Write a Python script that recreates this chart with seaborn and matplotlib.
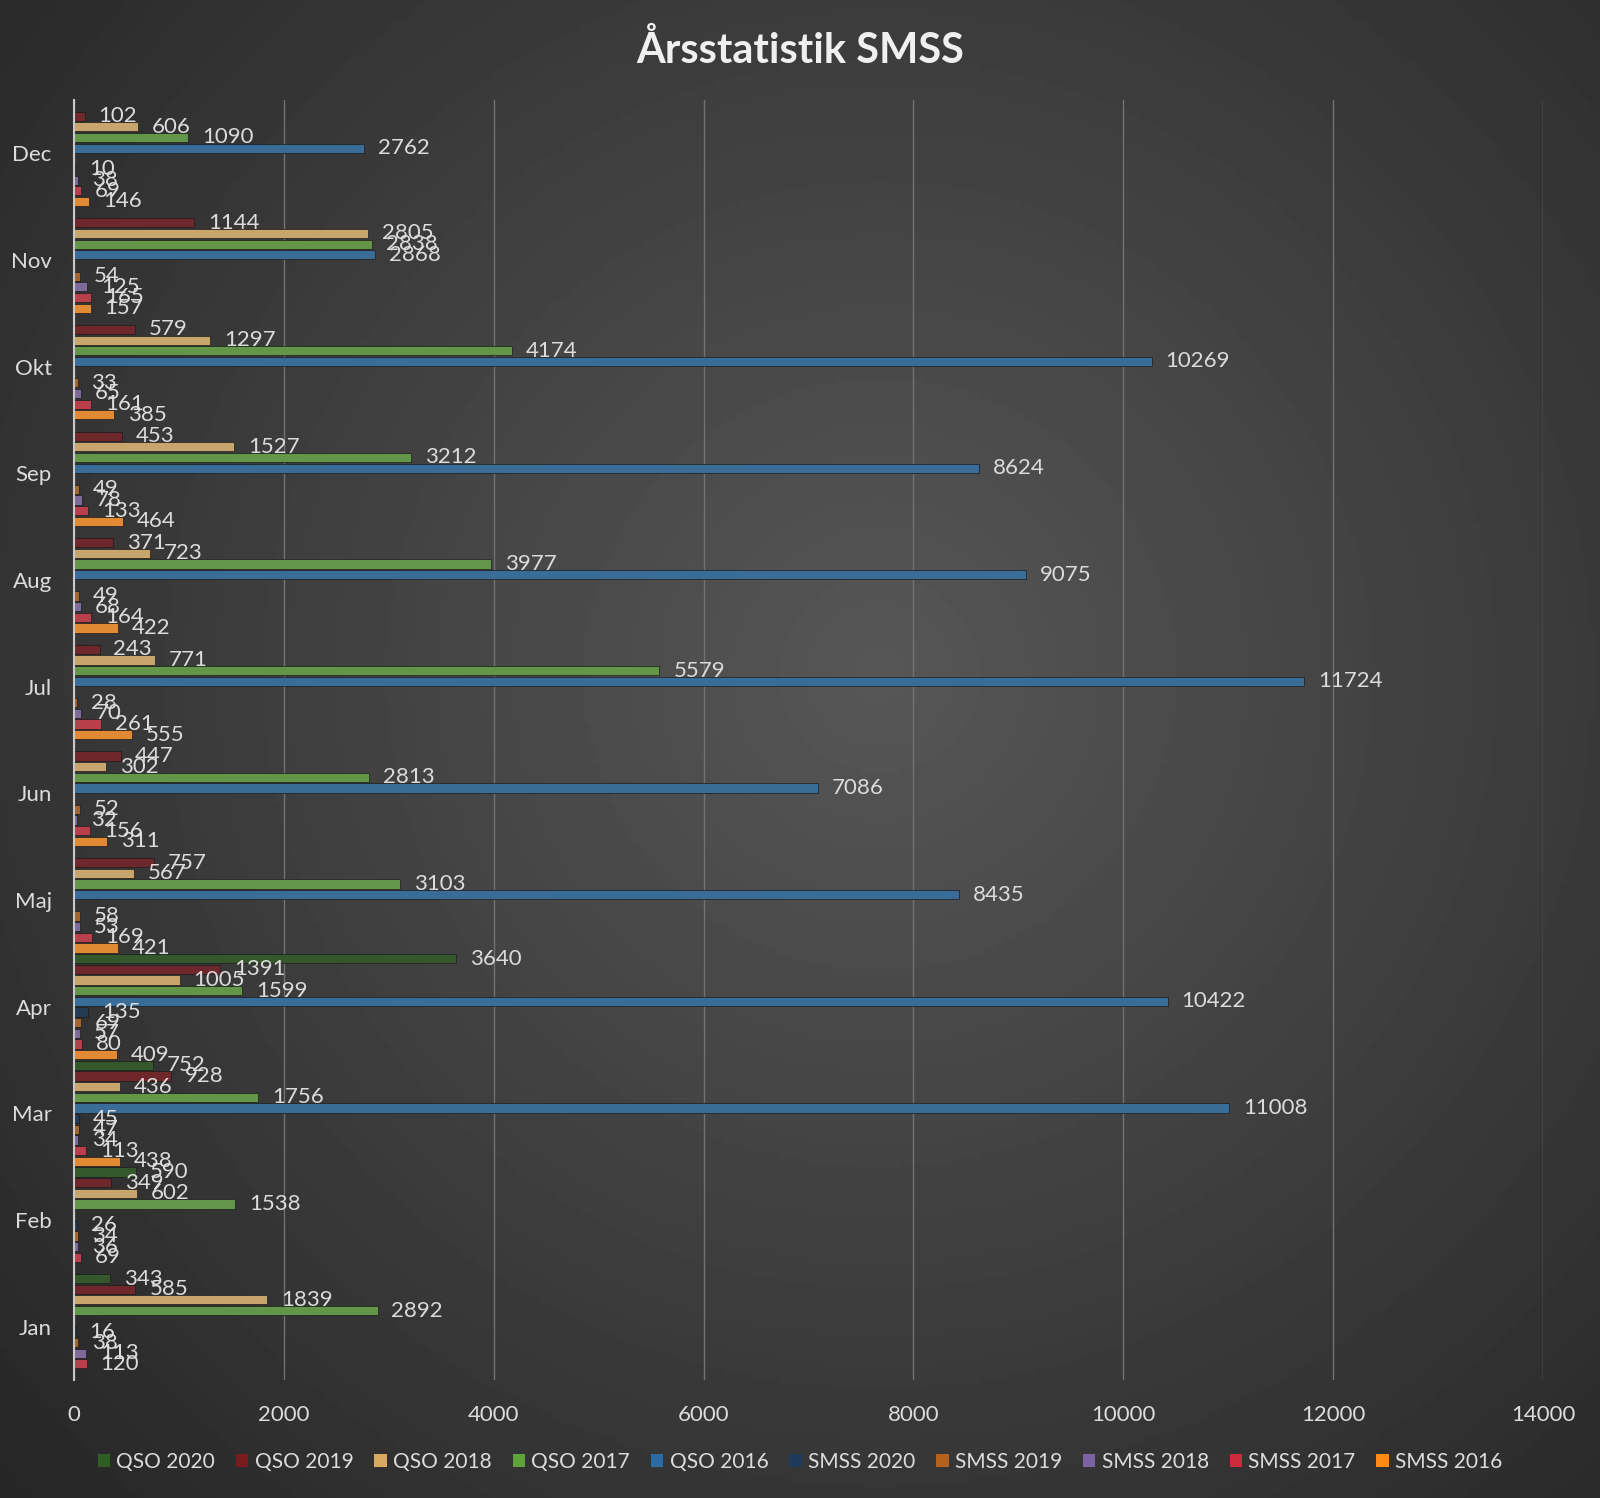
import numpy as np
import pandas as pd
import matplotlib
matplotlib.use("Agg")
import matplotlib.pyplot as plt
from matplotlib.patches import Patch
import seaborn as sns

# ============================
# DATA (Jan..Dec)
# ============================
months = ["Jan", "Feb", "Mar", "Apr", "Maj", "Jun", "Jul", "Aug", "Sep", "Okt", "Nov", "Dec"]
nan = np.nan

qso_2020 = [343, 590, 752, 3640, nan, nan, nan, nan, nan, nan, nan, nan]
qso_2019 = [585, 349, 928, 1391, 757, 447, 243, 371, 453, 579, 1144, 102]
qso_2018 = [1839, 602, 436, 1005, 567, 302, 771, 723, 1527, 1297, 2805, 606]
qso_2017 = [2892, 1538, 1756, 1599, 3103, 2813, 5579, 3977, 3212, 4174, 2838, 1090]
qso_2016 = [nan, nan, 11008, 10422, 8435, 7086, 11724, 9075, 8624, 10269, 2868, 2762]
smss_2020 = [16, 26, 45, 135, nan, nan, nan, nan, nan, nan, nan, nan]
smss_2019 = [38, 34, 47, 69, 58, 52, 28, 49, 49, 33, 54, 10]
smss_2018 = [113, 36, 34, 57, 53, 32, 70, 68, 78, 65, 125, 38]
smss_2017 = [120, 69, 113, 80, 169, 156, 261, 164, 133, 161, 165, 69]
smss_2016 = [nan, nan, 438, 409, 421, 311, 555, 422, 464, 385, 157, 146]

series_names = ["QSO 2020", "QSO 2019", "QSO 2018", "QSO 2017", "QSO 2016",
                "SMSS 2020", "SMSS 2019", "SMSS 2018", "SMSS 2017", "SMSS 2016"]
series_values = [qso_2020, qso_2019, qso_2018, qso_2017, qso_2016,
                 smss_2020, smss_2019, smss_2018, smss_2017, smss_2016]
colors = ["#2f5e24", "#7a1b20", "#d8a85f", "#5fa33c", "#2a6da6",
          "#1e3a5a", "#b5621e", "#7b62a3", "#cf2a3c", "#ff8a16"]

# long format, missing months dropped
rows = []
for name, vals in zip(series_names, series_values):
    for m, v in zip(months, vals):
        if not np.isnan(v):
            rows.append({"Månad": m, "Antal": v, "Serie": name})
df = pd.DataFrame(rows)

# ============================
# FIGUR
# ============================
plt.rcParams["font.family"] = ["Lato", "DejaVu Sans"]
txt = "#dcdcdc"

fig = plt.figure(figsize=(16, 14.98), dpi=100)

# bakgrund med radiell gradient
bg = fig.add_axes([0, 0, 1, 1], zorder=-10)
yy, xx = np.mgrid[0:1:300j, 0:1:320j]
r = np.sqrt(((xx - 0.55) / 0.75) ** 2 + ((yy - 0.45) / 0.8) ** 2)
grad = np.clip(0.34 - 0.19 * r, 0.14, 0.34)
bg.imshow(grad, cmap="gray", vmin=0, vmax=1, aspect="auto", extent=[0, 1, 0, 1])
bg.axis("off")

ax = fig.add_axes([0.0463, 0.0788, 0.9181, 0.8544])
ax.patch.set_alpha(0)

sns.barplot(data=df, y="Månad", x="Antal", hue="Serie", orient="h",
            order=months[::-1], hue_order=series_names, palette=colors,
            width=1.0, gap=0.15, errorbar=None, ax=ax, legend=False,
            edgecolor="#1c1c1c", linewidth=0.5, zorder=3)

for cont in ax.containers:
    ax.bar_label(cont, fmt="%d", padding=10, color=txt, fontsize=16, zorder=5)

ax.set_xlim(0, 14000)
ax.set_xticks(range(0, 14001, 2000))
ax.set_ylim(11.5, -0.5)
ax.grid(axis="x", color="#727272", linewidth=1, zorder=0)
ax.set_axisbelow(True)
for s in ["top", "right", "bottom"]:
    ax.spines[s].set_visible(False)
ax.spines["left"].set_color("#c8c8c8")
ax.spines["left"].set_linewidth(1.5)
ax.spines["left"].set_zorder(6)
ax.tick_params(axis="both", length=0, colors=txt, labelsize=16)
ax.tick_params(axis="x", pad=18)
ax.tick_params(axis="y", pad=16)
ax.set_xlabel("")
ax.set_ylabel("")

fig.suptitle("Årsstatistik SMSS", y=0.98, color="#f0f0f0", fontsize=30,
             fontweight="bold")

handles = [Patch(facecolor=c, label=n) for n, c in zip(series_names, colors)]
fig.legend(handles=handles, loc="center", bbox_to_anchor=(0.5, 0.024), ncol=10,
           frameon=False, fontsize=15, labelcolor=txt, handlelength=0.6,
           handleheight=0.6, handletextpad=0.3, columnspacing=1.0)

fig.savefig("out.png", dpi=100)
